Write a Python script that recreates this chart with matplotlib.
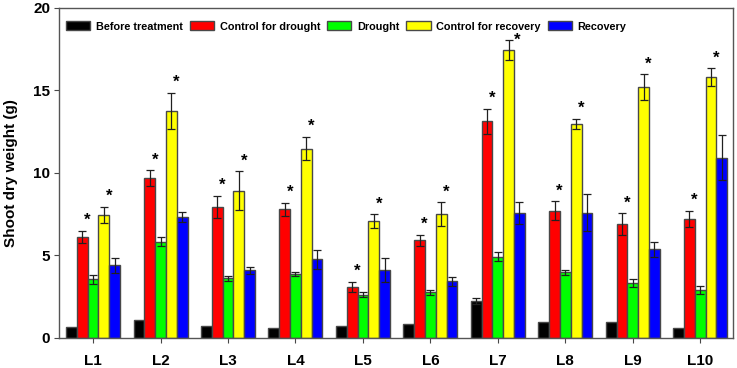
import matplotlib.pyplot as plt
import numpy as np

plt.rcParams['font.family'] = ['Liberation Sans', 'DejaVu Sans']
plt.rcParams['font.weight'] = 'bold'

### Data
lines = ['L1', 'L2', 'L3', 'L4', 'L5', 'L6', 'L7', 'L8', 'L9', 'L10']
series = ['Before treatment', 'Control for drought', 'Drought',
          'Control for recovery', 'Recovery']
colors = ['#000000', '#ff0000', '#00ff00', '#ffff00', '#0000ff']

before = [0.67, 1.05, 0.71, 0.59, 0.71, 0.83, 2.25, 0.93, 0.95, 0.61]
before_err = [0, 0, 0, 0, 0, 0, 0.18, 0, 0, 0]
ctrl_drought = [6.11, 9.67, 7.93, 7.79, 3.08, 5.91, 13.13, 7.71, 6.88, 7.20]
ctrl_drought_err = [0.38, 0.49, 0.69, 0.40, 0.30, 0.32, 0.77, 0.58, 0.67, 0.51]
drought = [3.54, 5.83, 3.60, 3.85, 2.61, 2.75, 4.92, 3.97, 3.30, 2.91]
drought_err = [0.26, 0.26, 0.14, 0.12, 0.14, 0.16, 0.26, 0.16, 0.24, 0.25]
ctrl_recovery = [7.46, 13.76, 8.92, 11.47, 7.08, 7.50, 17.46, 12.99, 15.21, 15.80]
ctrl_recovery_err = [0.49, 1.09, 1.18, 0.71, 0.42, 0.72, 0.62, 0.30, 0.77, 0.55]
recovery = [4.39, 7.32, 4.09, 4.76, 4.11, 3.42, 7.55, 7.59, 5.36, 10.92]
recovery_err = [0.45, 0.30, 0.20, 0.58, 0.73, 0.28, 0.67, 1.11, 0.45, 1.38]

values = [before, ctrl_drought, drought, ctrl_recovery, recovery]
errors = [before_err, ctrl_drought_err, drought_err, ctrl_recovery_err, recovery_err]
# which series get an asterisk (significant)
starred = [1, 3]

fig = plt.figure(figsize=(7.37, 3.68), dpi=100)
ax = fig.add_axes([0.0805, 0.0823, 0.9145, 0.8960])

x = np.arange(1, len(lines) + 1)
w = 0.16
edge = '#484848'
for i in range(len(series)):
    pos = x + (i - 2) * w
    err = np.array(errors[i])
    ax.bar(pos, values[i], w, color=colors[i], edgecolor=edge,
           linewidth=1.0, label=series[i], zorder=2)
    mask = err > 0
    ax.errorbar(pos[mask], np.array(values[i])[mask], yerr=err[mask],
                fmt='none', ecolor='#202020', elinewidth=0.9,
                capsize=3, capthick=0.9, zorder=3)

# asterisks above the control bars
for i in starred:
    pos = x + (i - 2) * w
    for j in range(len(lines)):
        top = values[i][j] + errors[i][j]
        dx, dy = 0.075, 0.35
        if i == 3 and j == 6:   # L7 yellow star sits beside the cap
            dx, dy = 0.12, -0.3
        ax.text(pos[j] + dx, top + dy, '*', ha='center', va='baseline',
                fontsize=12, fontweight='bold', color='black', zorder=4)

ax.set_xlim(0.5, 10.49)
ax.set_ylim(0, 20)
ax.set_xticks(x)
ax.set_xticklabels(lines, fontsize=11, fontweight='bold')
ax.set_yticks([0, 5, 10, 15, 20])
ax.set_yticklabels(['0', '5', '10', '15', '20'], fontsize=11, fontweight='bold')
ax.tick_params(axis='x', length=3.6, width=0.8, color=edge, pad=8)
ax.tick_params(axis='y', length=3.6, width=0.8, color=edge, pad=3)
for s in ax.spines.values():
    s.set_color('#555555')
    s.set_linewidth(1.0)
ax.set_ylabel('Shoot dry weight (g)', fontsize=11, fontweight='bold')
ax.yaxis.set_label_coords(-0.061, 0.5)

ax.legend(loc='upper left', bbox_to_anchor=(0.01, 1 - 13.5 / 330), ncol=5,
          frameon=False, borderaxespad=0, borderpad=0,
          prop={'size': 7.8, 'weight': 'bold'},
          handlelength=2.25, handleheight=0.9, handletextpad=0.5,
          columnspacing=0.65)

fig.savefig('out.png', dpi=100)
